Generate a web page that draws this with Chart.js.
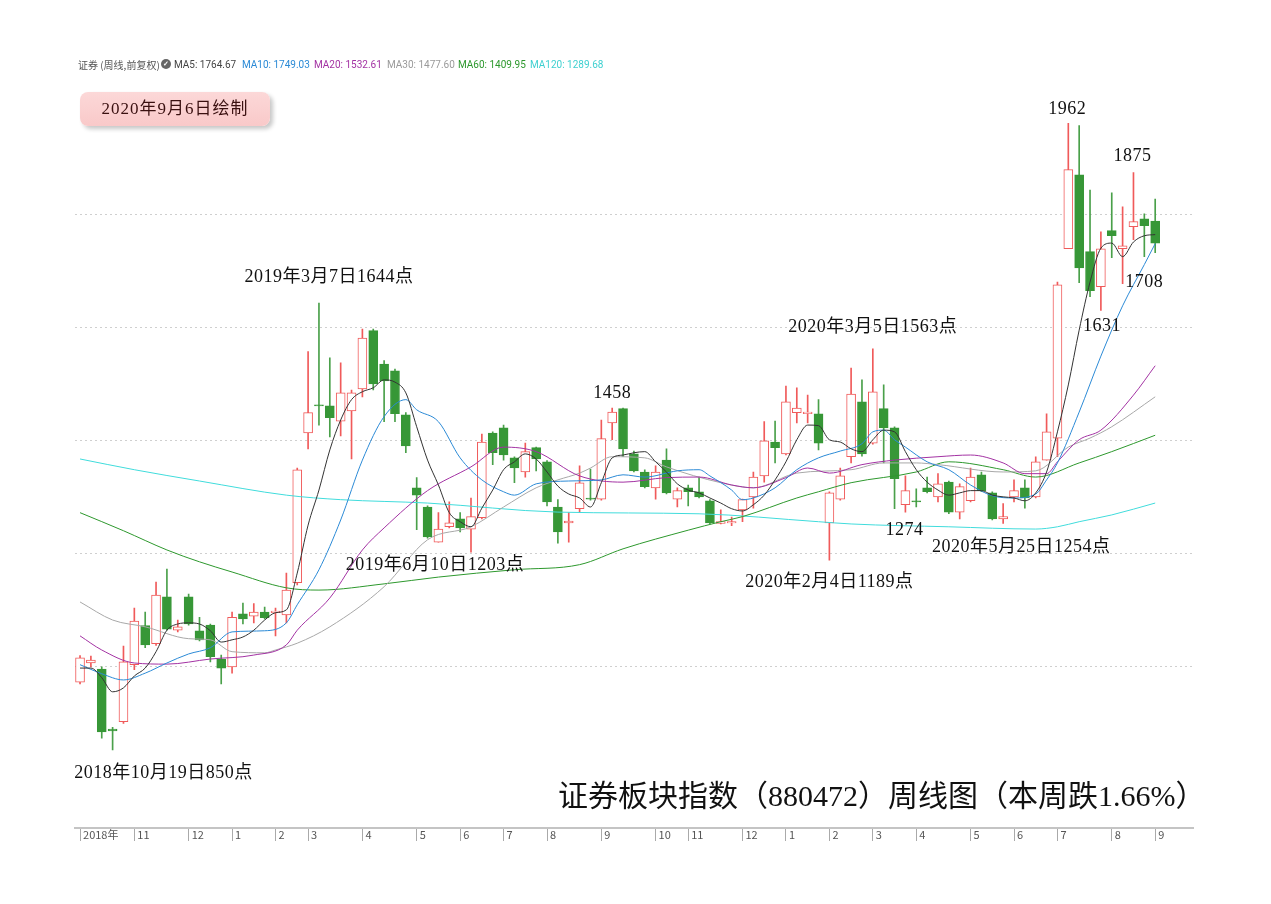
<!DOCTYPE html>
<html>
<head>
<meta charset="utf-8">
<script src="https://cdn.jsdelivr.net/npm/chart.js@4.4.1/dist/chart.umd.min.js"></script>
<style>
  body { margin: 0; background: #fff; }
  #wrap { position: relative; width: 1271px; height: 904px; overflow: hidden; }
  #wrap canvas { position: absolute; left: 0; top: 0; }
  .hd { position: absolute; top: 58px; font: 10px Roboto, "Noto Sans CJK SC", sans-serif; white-space: nowrap; line-height: 13px; }
  .ic { position: absolute; left: 161px; top: 59px; width: 10px; height: 10px; border-radius: 50%; background: #666; color: #fff; font: bold 7px sans-serif; line-height: 10px; text-align: center; }
  .stamp { position: absolute; left: 80px; top: 92px; width: 190px; height: 34px; border-radius: 8px;
    background: linear-gradient(#fcd8d8, #f9c9c9); box-shadow: 3px 3px 4px rgba(0,0,0,0.22);
    font: 17px "Liberation Serif", "Noto Sans CJK SC", serif; color: #3a1010; text-align: center; line-height: 34px; letter-spacing: 1px; }
  .title { position: absolute; left: 558px; top: 771px; font: 30px "Liberation Serif", "Noto Sans CJK SC", serif; color: #111; white-space: nowrap; }
</style>
</head>
<body>
<div id="wrap">
  <canvas id="kline"></canvas>
  <div class="hd" style="left:78px;color:#555;font-family:'Noto Sans CJK SC',sans-serif">证券 (周线,前复权)</div>
  <div class="ic">✓</div>
  <div class="hd" style="left:174px;color:#444">MA5: 1764.67</div>
  <div class="hd" style="left:242px;color:#2b8ad6">MA10: 1749.03</div>
  <div class="hd" style="left:314px;color:#a332a3">MA20: 1532.61</div>
  <div class="hd" style="left:387px;color:#9a9a9a">MA30: 1477.60</div>
  <div class="hd" style="left:458px;color:#2d982d">MA60: 1409.95</div>
  <div class="hd" style="left:530px;color:#3fd0d0">MA120: 1289.68</div>
  <div class="stamp">2020年9月6日绘制</div>
  <div class="title">证券板块指数（880472）周线图（本周跌1.66%）</div>
</div>
<script>
// weekly candles, Sep 2018 - Aug 2020
const opens = [
  973,1007,996,890,903,1004,1073,1041,1124,1065,
  1124,1064,1074,1014,1000,1094,1090,1097,1096,1092,
  1149,1414,1464,1462,1435,1453,1492,1595,1536,1524,
  1446,1317,1283,1221,1248,1262,1244,1264,1414,1423,
  1370,1345,1388,1363,1283,1255,1280,1299,1297,1432,
  1457,1377,1345,1317,1366,1297,1317,1310,1294,1254,
  1255,1278,1301,1338,1398,1377,1450,1448,1448,1255,
  1297,1372,1469,1396,1457,1423,1287,1294,1317,1301,
  1327,1274,1294,1340,1308,1262,1301,1317,1301,1366,
  1405,1740,1871,1735,1673,1772,1740,1779,1793,1789
];
const highs = [
  1020,1019,1000,893,1037,1104,1097,1150,1173,1083,
  1129,1088,1076,1021,1097,1113,1112,1106,1104,1166,
  1352,1558,1644,1547,1538,1490,1598,1598,1542,1527,
  1450,1335,1285,1273,1292,1273,1299,1412,1416,1428,
  1372,1396,1389,1365,1296,1273,1356,1350,1437,1458,
  1458,1382,1349,1356,1386,1317,1322,1336,1296,1278,
  1265,1297,1345,1434,1435,1497,1494,1481,1473,1310,
  1352,1529,1508,1563,1499,1425,1338,1315,1336,1342,
  1329,1324,1352,1345,1310,1289,1331,1331,1372,1448,
  1681,1962,1958,1844,1770,1839,1814,1875,1802,1828
];
const lows = [
  970,1000,874,853,900,995,1034,1038,1065,1062,
  1074,1046,1009,970,989,1076,1078,1085,1055,1078,
  1145,1386,1428,1407,1409,1368,1478,1490,1434,1434,
  1379,1243,1228,1221,1246,1239,1203,1262,1358,1366,
  1326,1336,1347,1285,1219,1221,1273,1295,1295,1402,
  1372,1345,1317,1297,1306,1283,1285,1299,1253,1253,
  1250,1257,1281,1327,1361,1375,1432,1432,1384,1189,
  1295,1361,1373,1394,1361,1280,1274,1283,1308,1292,
  1271,1262,1292,1310,1260,1254,1292,1281,1299,1366,
  1372,1740,1680,1655,1631,1724,1678,1756,1726,1733
];
const closes = [
  1016,1012,885,887,1009,1081,1039,1127,1067,1071,
  1076,1048,1018,998,1088,1085,1097,1087,1099,1136,
  1349,1450,1462,1441,1485,1485,1582,1501,1506,1448,
  1391,1304,1230,1244,1255,1246,1266,1398,1379,1375,
  1352,1381,1368,1292,1239,1258,1326,1297,1404,1451,
  1386,1347,1319,1345,1308,1312,1310,1301,1255,1257,
  1257,1296,1336,1400,1388,1469,1458,1451,1396,1308,
  1338,1483,1377,1487,1423,1333,1312,1292,1310,1324,
  1274,1319,1336,1312,1262,1266,1312,1299,1363,1416,
  1676,1880,1706,1666,1740,1763,1745,1788,1781,1750
];

// moving averages
const ma5 = [
  998,998,981,956,963,984,998,1027,1065,1076,
  1078,1076,1064,1044,1048,1053,1065,1083,1096,1101,
  1166,1251,1313,1384,1437,1473,1487,1494,1508,1504,
  1485,1425,1366,1322,1273,1257,1248,1281,1313,1349,
  1363,1377,1368,1345,1320,1306,1299,1283,1326,1370,
  1375,1379,1381,1363,1345,1324,1313,1308,1299,1290,
  1280,1276,1287,1304,1331,1363,1402,1428,1427,1402,
  1398,1386,1381,1402,1419,1416,1381,1349,1327,1313,
  1304,1308,1312,1312,1304,1301,1299,1294,1308,1345,
  1416,1499,1596,1681,1741,1750,1726,1752,1763,1765
];
const ma10Pts = [[0,1004],[2,988],[4,977],[6,989],[8,1007],[10,1023],[12,1034],[14,1062],[17,1064],[19,1078],
  [20,1110],[22,1172],[24,1260],[26,1366],[28,1443],[30,1473],[31,1455],[33,1434],[35,1370],[37,1331],[39,1310],
  [40,1304],[42,1324],[45,1329],[48,1331],[50,1340],[52,1336],[55,1347],[57,1349],[58,1338],[60,1313],[61,1296],
  [62,1299],[64,1317],[66,1349],[68,1370],[70,1382],[72,1395],[73,1416],[74,1419],[75,1402],[76,1389],[78,1363],
  [80,1349],[82,1322],[84,1303],[86,1299],[88,1306],[89,1331],[90,1361],[92,1451],[94,1550],[96,1639],[98,1712],[99,1749]];
const ma20Pts = [[0,1055],[2,1030],[5,1007],[8,1005],[12,1014],[16,1021],[19,1039],[20,1065],[23,1122],[26,1207],
  [28,1246],[32,1312],[36,1354],[39,1389],[42,1381],[46,1338],[50,1327],[54,1335],[57,1336],[60,1322],[62,1317],
  [65,1335],[67,1352],[69,1343],[72,1358],[75,1366],[79,1372],[82,1375],[85,1361],[87,1342],[89,1342],[90,1363],
  [92,1402],[94,1419],[97,1481],[99,1533]];
const ma30Pts = [[0,1115],[3,1083],[6,1071],[10,1050],[12,1048],[14,1027],[17,1025],[18,1030],[20,1042],[23,1071],
  [28,1142],[32,1225],[36,1248],[39,1283],[42,1317],[44,1331],[46,1343],[47,1352],[49,1372],[52,1370],[54,1354],
  [59,1326],[62,1317],[66,1343],[71,1349],[74,1361],[77,1361],[79,1358],[85,1345],[88,1347],[91,1389],[93,1405],
  [95,1425],[99,1478]];
const ma60Pts = [[0,1273],[4,1241],[8,1207],[11,1186],[14,1168],[19,1140],[22,1136],[28,1147],[33,1159],[40,1172],
  [46,1181],[50,1209],[56,1242],[59,1257],[61,1266],[66,1299],[68,1310],[71,1326],[77,1345],[80,1363],[85,1349],
  [88,1336],[92,1361],[95,1381],[99,1410]];
const ma120Pts = [[0,1368],[5,1349],[11,1329],[19,1304],[24,1296],[32,1290],[44,1274],[57,1271],[68,1257],[71,1253],
  [80,1248],[88,1244],[90,1248],[92,1257],[95,1269],[99,1290]];

// month marks along the time axis (candle index, label)
const monthTicks = [[0,'2018年'],[5,'11'],[10,'12'],[14,'1'],[18,'2'],[21,'3'],[26,'4'],[31,'5'],[35,'6'],[39,'7'],
  [43,'8'],[48,'9'],[53,'10'],[56,'11'],[61,'12'],[65,'1'],[69,'2'],[73,'3'],[77,'4'],[82,'5'],[86,'6'],[90,'7'],
  [95,'8'],[99,'9']];
const slots = 103;   // 100 weeks + empty room on the right

const notes = [
  { i: 91, v: 1962, text: '1962', dx: -1, dy: -14 },
  { i: 97, v: 1875, text: '1875', dx: -1, dy: -16 },
  { i: 98, v: 1708, text: '1708', dx: 0, dy: 15 },
  { i: 94, v: 1631, text: '1631', dx: 1, dy: 16 },
  { i: 22, v: 1644, text: '2019年3月7日1644点', dx: 10, dy: -26 },
  { i: 73, v: 1563, text: '2020年3月5日1563点', dx: 0, dy: -22 },
  { i: 49, v: 1458, text: '1458', dx: 0, dy: -15 },
  { i: 36, v: 1203, text: '2019年6月10日1203点', dx: -36, dy: 13 },
  { i: 76, v: 1274, text: '1274', dx: -1, dy: 18 },
  { i: 85, v: 1254, text: '2020年5月25日1254点', dx: 18, dy: 24 },
  { i: 69, v: 1189, text: '2020年2月4日1189点', dx: 0, dy: 22 },
  { i: 3, v: 850, text: '2018年10月19日850点', dx: 51, dy: 22 }
];

const UP = '#f05a5a';
const DOWN = '#379737';

const labels = Array(slots).fill('');
monthTicks.forEach(([i, t]) => labels[i] = t);

function sparse(pts) {
  const arr = Array(slots).fill(null);
  pts.forEach(([i, v]) => arr[i] = v);
  return arr;
}

const isUp = i => closes[i] >= opens[i];

function maLine(label, data, color, width) {
  return {
    type: 'line', label, data, borderColor: color, borderWidth: width || 1,
    pointRadius: 0, spanGaps: true, cubicInterpolationMode: 'monotone', fill: false
  };
}

const notePlugin = {
  id: 'notes',
  afterDatasetsDraw(chart) {
    const { ctx, scales: { x, y } } = chart;
    ctx.save();
    ctx.font = '18px "Liberation Serif", "Noto Sans CJK SC", serif';
    ctx.letterSpacing = '0.5px';
    ctx.fillStyle = '#111';
    ctx.textAlign = 'center';
    ctx.textBaseline = 'middle';
    notes.forEach(n => {
      ctx.fillText(n.text, x.getPixelForValue(n.i) + n.dx, y.getPixelForValue(n.v) + n.dy);
    });
    ctx.restore();
  }
};

const ctx = document.getElementById('kline').getContext('2d');
new Chart(ctx, {
  type: 'bar',
  data: {
    labels: labels,
    datasets: [
      maLine('MA5', ma5, '#333333'),
      maLine('MA10', sparse(ma10Pts), '#2b8ad6'),
      maLine('MA20', sparse(ma20Pts), '#a332a3'),
      maLine('MA30', sparse(ma30Pts), '#a8a8a8'),
      maLine('MA60', sparse(ma60Pts), '#2d982d'),
      maLine('MA120', sparse(ma120Pts), '#40dcdc'),
      {
        label: 'body',
        data: opens.map((o, i) => [o, closes[i]]),
        grouped: false,
        barThickness: 9,
        borderWidth: 1,
        borderSkipped: false,
        borderColor: c => isUp(c.dataIndex) ? UP : DOWN,
        backgroundColor: c => isUp(c.dataIndex) ? '#ffffff' : DOWN
      },
      {
        label: 'wick',
        data: lows.map((l, i) => [l, highs[i]]),
        grouped: false,
        barThickness: 1,
        borderWidth: 0,
        backgroundColor: c => isUp(c.dataIndex) ? UP : '#4aa04a'
      }
    ]
  },
  options: {
    responsive: true,
    maintainAspectRatio: false,
    animation: false,
    layout: { padding: { left: 74.6, right: 77.8, top: 60, bottom: 56 } },
    plugins: { legend: { display: false }, tooltip: { enabled: false } },
    scales: {
      x: {
        afterFit: s => { s.height = 20; },
        border: { display: true, color: '#c4c4c4', width: 2 },
        grid: {
          offset: false, drawOnChartArea: false, drawTicks: true, tickLength: 13,
          tickColor: c => labels[c.index] ? '#aaa' : 'rgba(0,0,0,0)'
        },
        ticks: {
          autoSkip: false, maxRotation: 0, align: 'start', padding: -13, labelOffset: 3,
          color: '#555', font: { size: 11, family: '"Noto Sans CJK SC", "Noto Sans", sans-serif' }
        }
      },
      y: {
        min: 715, max: 2074,
        afterFit: s => { s.width = 0; },
        afterBuildTicks: s => { s.ticks = [1000, 1200, 1400, 1600, 1800].map(v => ({ value: v })); },
        border: { display: false, dash: [2, 3] },
        grid: { color: '#cfcfcf', drawTicks: false },
        ticks: { display: false }
      }
    }
  },
  plugins: [notePlugin]
});
</script>
</body>
</html>
